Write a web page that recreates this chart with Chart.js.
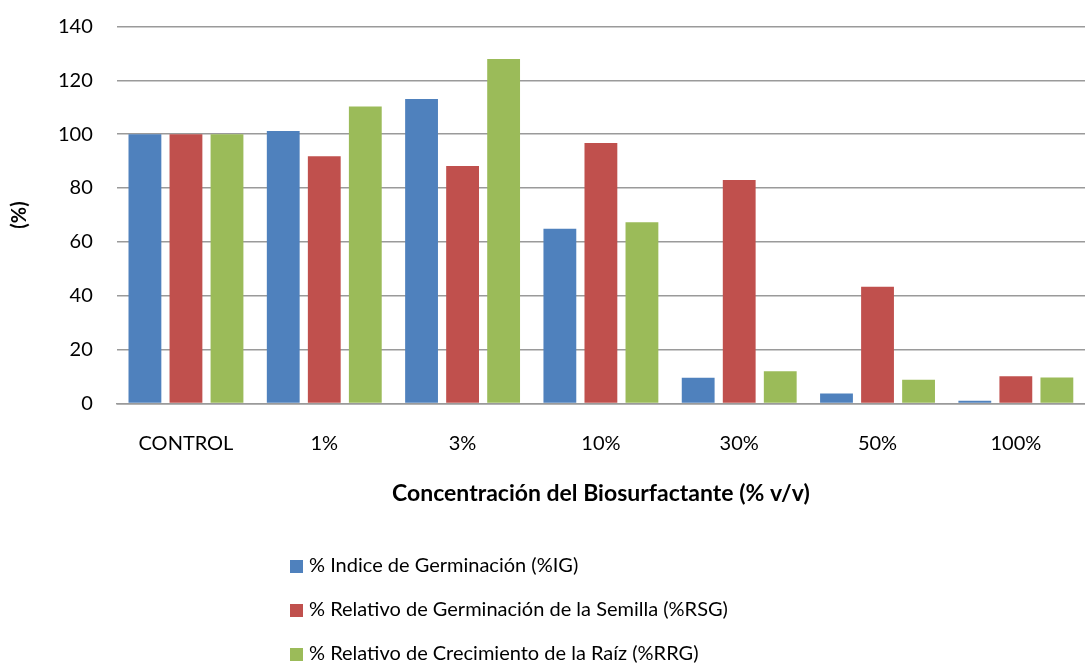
<!DOCTYPE html>
<html>
<head>
<meta charset="utf-8">
<script src="https://cdn.jsdelivr.net/npm/chart.js@4"></script>
<style>
  html, body { margin: 0; padding: 0; background: #fff; }
  #wrap { width: 1085px; height: 666px; }
</style>
</head>
<body>
<div id="wrap"><canvas id="chart"></canvas></div>
<script>
const categories = ['CONTROL', '1%', '3%', '10%', '30%', '50%', '100%'];
const seriesNames = [
  '% Indice de Germinación (%IG)',
  '% Relativo de Germinación de la Semilla (%RSG)',
  '% Relativo de Crecimiento de la Raíz (%RRG)'
];
const igValues = [100, 101.2, 113.1, 64.9, 9.5, 3.7, 1.0];
const rsgValues = [100, 91.8, 88.2, 96.7, 83.0, 43.3, 10.1];
const rrgValues = [100, 110.3, 127.9, 67.3, 11.9, 8.8, 9.6];
const colors = ['#4F81BD', '#C0504D', '#9BBB59'];

const FONT = 'Lato, "Open Sans", sans-serif';
Chart.defaults.font.family = FONT;
Chart.defaults.color = '#000';

// legend stacked vertically under the chart
const stackedLegend = {
  id: 'stackedLegend',
  afterDraw(chart) {
    const ctx = chart.ctx;
    ctx.save();
    ctx.font = '20px ' + FONT;
    ctx.textBaseline = 'middle';
    ctx.textAlign = 'left';
    chart.data.datasets.forEach((ds, i) => {
      const y = 566 + i * 44;
      ctx.fillStyle = ds.backgroundColor;
      ctx.fillRect(290, y - 6, 13, 13);
      ctx.fillStyle = '#000';
      ctx.fillText(ds.label, 309, y);
    });
    ctx.restore();
  }
};

new Chart(document.getElementById('chart'), {
  type: 'bar',
  data: {
    labels: categories,
    datasets: [
      {label: seriesNames[0], data: igValues, backgroundColor: colors[0]},
      {label: seriesNames[1], data: rsgValues, backgroundColor: colors[1]},
      {label: seriesNames[2], data: rrgValues, backgroundColor: colors[2]}
    ]
  },
  options: {
    responsive: true,
    maintainAspectRatio: false,
    animation: false,
    layout: {padding: {top: 2, left: 8, right: 0, bottom: 155}},
    datasets: {bar: {categoryPercentage: 0.89, barPercentage: 0.8}},
    plugins: {
      legend: {display: false},
      tooltip: {enabled: false}
    },
    scales: {
      x: {
        grid: {display: false, drawTicks: false},
        border: {display: true, color: '#9a9a9a', width: 1.5},
        ticks: {padding: 28, font: {size: 20}},
        title: {
          display: true,
          text: 'Concentración del Biosurfactante (% v/v)',
          font: {size: 23, weight: 'bold'},
          padding: {top: -4, bottom: 4}
        }
      },
      y: {
        min: 0,
        max: 140,
        // small lineHeight keeps the top tick overhang from pushing the plot down
        ticks: {stepSize: 20, padding: 24, font: {size: 20, lineHeight: 0.25}},
        grid: {color: '#9a9a9a', lineWidth: 1.5, drawTicks: false},
        border: {display: false},
        title: {
          display: true,
          text: '(%)',
          font: {size: 20, weight: 'bold'},
          padding: {top: 0, bottom: 2}
        }
      }
    }
  },
  plugins: [stackedLegend]
});
</script>
</body>
</html>
